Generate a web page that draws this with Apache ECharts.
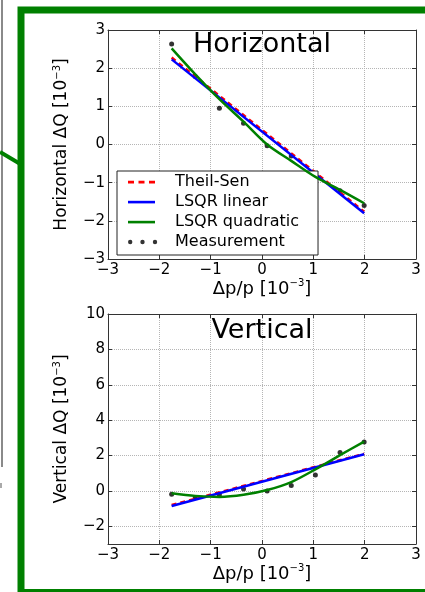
<!DOCTYPE html>
<html><head><meta charset="utf-8">
<script src="https://cdn.jsdelivr.net/npm/echarts@6/dist/echarts.min.js"></script>
<style>html,body{margin:0;padding:0;background:#fff;}#c{width:425px;height:592px;}</style>
</head><body><div id="c"></div>
<script>
// ---- data ----
const xTicks = [-3, -2, -1, 0, 1, 2, 3];
const hTicks = [-3, -2, -1, 0, 1, 2, 3];
const vTicks = [-2, 0, 2, 4, 6, 8, 10];

const measX = [-1.76, -1.30, -0.83, -0.36, 0.10, 0.57, 1.04, 1.52, 1.99];
const hMeas = [2.63, 1.78, 0.95, 0.56, -0.03, -0.30, -0.86, -1.21, -1.60];
const vMeas = [-0.19, -0.37, -0.22, 0.11, 0.00, 0.30, 0.90, 2.17, 2.77];

const fitX = [-1.76, 1.99];
const hTheil = [2.28, -1.76];
const hLinear = [2.23, -1.80];
const hQuad = [2.52, 1.84, 1.19, 0.60, 0.00, -0.43, -0.85, -1.19, -1.54];
const vTheil = [-0.80, 2.10];
const vLinear = [-0.85, 2.07];
const vQuad = [-0.13, -0.28, -0.34, -0.22, 0.05, 0.50, 1.22, 2.02, 2.79];

const legendNames = ['Theil-Sen', 'LSQR linear', 'LSQR quadratic', 'Measurement'];
const titles = ['Horizontal', 'Vertical'];

// ---- helpers ----
const pair = (xs, ys) => xs.map((x, i) => [x, ys[i]]);
const fmt = v => (v < 0 ? '\u2212' + Math.abs(v) : String(v));
const FONT = 'DejaVu Sans';
const AX = '#333';
const GRIDC = '#b5b5b5';
const sup = { fontSize: 10, padding: [0, 0, 10, 0], fontFamily: FONT, color: '#000' };

function mainX(gi) {
  return {
    type: 'value', gridIndex: gi, min: -3, max: 3, interval: 1, position: 'bottom',
    name: 'Δp/p [10{sup|−3}]', nameLocation: 'middle', nameGap: 18,
    nameTextStyle: { fontSize: 18, color: '#000', fontFamily: FONT, rich: { sup } },
    axisLine: { show: true, onZero: false, lineStyle: { color: AX, width: 1 } },
    axisTick: { show: true, inside: true, length: 4, lineStyle: { color: AX } },
    axisLabel: { fontSize: 15, color: '#000', margin: 4, fontFamily: FONT, formatter: fmt, customValues: xTicks },
    splitLine: { show: true, lineStyle: { color: GRIDC, type: 'dotted', width: 1 } }
  };
}
function topX(gi) {
  return {
    type: 'value', gridIndex: gi, min: -3, max: 3, interval: 1, position: 'top',
    axisLine: { show: true, onZero: false, lineStyle: { color: AX, width: 1 } },
    axisTick: { show: true, inside: true, length: 4, lineStyle: { color: AX } },
    axisLabel: { show: false }, splitLine: { show: false }
  };
}

const option = {
  animation: false,
  backgroundColor: '#fff',
  textStyle: { fontFamily: FONT },
  title: [
    { text: titles[0], left: 262, top: 31, textAlign: 'center', padding: 0,
      textStyle: { fontSize: 27, fontWeight: 'normal', color: '#000', fontFamily: FONT } },
    { text: titles[1], left: 262, top: 317, textAlign: 'center', padding: 0,
      textStyle: { fontSize: 27, fontWeight: 'normal', color: '#000', fontFamily: FONT } }
  ],
  grid: [
    { left: 108, top: 30, width: 308, height: 229, outerBoundsMode: 'none', containLabel: false },
    { left: 108, top: 314, width: 308, height: 230, outerBoundsMode: 'none', containLabel: false }
  ],
  xAxis: [mainX(0), topX(0), mainX(1), topX(1)],
  yAxis: [
    {
      type: 'value', gridIndex: 0, min: -3, max: 3, interval: 1, position: 'left',
      name: 'Horizontal ΔQ [10{sup|−3}]', nameLocation: 'middle', nameGap: 36,
      nameTextStyle: { fontSize: 17, color: '#000', fontFamily: FONT, rich: { sup } },
      axisLine: { show: true, onZero: false, lineStyle: { color: AX, width: 1 } },
      axisTick: { show: true, inside: true, length: 4, lineStyle: { color: AX } },
      axisLabel: { fontSize: 15, color: '#000', margin: 3, fontFamily: FONT, formatter: fmt, customValues: hTicks },
      splitLine: { show: true, lineStyle: { color: GRIDC, type: 'dotted', width: 1 } }
    },
    {
      type: 'value', gridIndex: 0, min: -3, max: 3, interval: 1, position: 'right',
      axisLine: { show: true, onZero: false, lineStyle: { color: AX, width: 1 } },
      axisTick: { show: true, inside: true, length: 4, lineStyle: { color: AX } },
      axisLabel: { show: false }, splitLine: { show: false }
    },
    {
      type: 'value', gridIndex: 1, min: -3, max: 10, position: 'left',
      name: 'Vertical ΔQ [10{sup|−3}]', nameLocation: 'middle', nameGap: 36,
      nameTextStyle: { fontSize: 17, color: '#000', fontFamily: FONT, rich: { sup } },
      axisLine: { show: true, onZero: false, lineStyle: { color: AX, width: 1 } },
      axisTick: { show: true, inside: true, length: 4, lineStyle: { color: AX }, customValues: vTicks },
      axisLabel: { fontSize: 15, color: '#000', margin: 3, fontFamily: FONT, formatter: fmt, customValues: vTicks },
      splitLine: { show: true, lineStyle: { color: GRIDC, type: 'dotted', width: 1 } }
    },
    {
      type: 'value', gridIndex: 1, min: -3, max: 10, position: 'right',
      axisLine: { show: true, onZero: false, lineStyle: { color: AX, width: 1 } },
      axisTick: { show: true, inside: true, length: 4, lineStyle: { color: AX }, customValues: vTicks },
      axisLabel: { show: false }, splitLine: { show: false }
    }
  ],
  legend: {
    orient: 'vertical', left: 117, top: 171, padding: [3, 19, 5, 11], itemGap: 4,
    itemWidth: 42, itemHeight: 10, backgroundColor: '#fff', borderColor: '#222', borderWidth: 1,
    borderRadius: 0, selectedMode: false,
    itemStyle: { borderWidth: 0 },
    textStyle: { fontSize: 16, color: '#000', fontFamily: FONT },
    data: [
      { name: legendNames[0], icon: 'path://M0,0L0,0M42,10L42,10M0,3.8h6v2.6h-6zM10.5,3.8h6v2.6h-6zM21,3.8h6v2.6h-6z' },
      { name: legendNames[1], icon: 'path://M0,0L0,0M42,10L42,10M0,3.8h27v2.6h-27z' },
      { name: legendNames[2], icon: 'path://M0,0L0,0M42,10L42,10M0,3.8h27v2.6h-27z' },
      { name: legendNames[3], icon: 'path://M0,0L0,0M42,10L42,10M0,5a2.2,2.2 0 1,0 4.4,0a2.2,2.2 0 1,0 -4.4,0zM12.3,5a2.2,2.2 0 1,0 4.4,0a2.2,2.2 0 1,0 -4.4,0zM24.8,5a2.2,2.2 0 1,0 4.4,0a2.2,2.2 0 1,0 -4.4,0z' }
    ]
  },
  graphic: [
    { type: 'line', z: 100, shape: { x1: 2, y1: 0, x2: 2, y2: 467 }, style: { stroke: '#8a8a8a', lineWidth: 2 } },
    { type: 'line', z: 100, shape: { x1: 1, y1: 483, x2: 1, y2: 488 }, style: { stroke: '#aaa', lineWidth: 2 } },
    { type: 'line', z: 100, shape: { x1: 0, y1: 152, x2: 22, y2: 165 }, style: { stroke: '#008000', lineWidth: 4 } },
    { type: 'rect', z: 100, shape: { x: 21, y: 10, width: 430, height: 582.5 }, style: { fill: 'none', stroke: '#008000', lineWidth: 7 } }
  ],
  series: [
    { name: legendNames[3], type: 'scatter', xAxisIndex: 0, yAxisIndex: 0, data: pair(measX, hMeas), symbolSize: 5,
      itemStyle: { color: '#000' }, z: 1 },
    { name: legendNames[0], type: 'line', xAxisIndex: 0, yAxisIndex: 0, data: pair(fitX, hTheil), symbol: 'none',
      lineStyle: { color: '#ff0000', width: 2.5, type: [5, 4] }, itemStyle: { color: '#ff0000' }, z: 2 },
    { name: legendNames[1], type: 'line', xAxisIndex: 0, yAxisIndex: 0, data: pair(fitX, hLinear), symbol: 'none',
      lineStyle: { color: '#0000ff', width: 2.5 }, itemStyle: { color: '#0000ff' }, z: 3 },
    { name: legendNames[2], type: 'line', xAxisIndex: 0, yAxisIndex: 0, data: pair(measX, hQuad), symbol: 'none', smooth: 0.3,
      lineStyle: { color: '#008000', width: 2.5 }, itemStyle: { color: '#008000' }, z: 4 },
    { name: legendNames[3], type: 'scatter', xAxisIndex: 2, yAxisIndex: 2, data: pair(measX, vMeas), symbolSize: 5,
      itemStyle: { color: '#000' }, z: 1 },
    { name: legendNames[0], type: 'line', xAxisIndex: 2, yAxisIndex: 2, data: pair(fitX, vTheil), symbol: 'none',
      lineStyle: { color: '#ff0000', width: 2.5, type: [5, 4] }, itemStyle: { color: '#ff0000' }, z: 2 },
    { name: legendNames[1], type: 'line', xAxisIndex: 2, yAxisIndex: 2, data: pair(fitX, vLinear), symbol: 'none',
      lineStyle: { color: '#0000ff', width: 2.5 }, itemStyle: { color: '#0000ff' }, z: 3 },
    { name: legendNames[2], type: 'line', xAxisIndex: 2, yAxisIndex: 2, data: pair(measX, vQuad), symbol: 'none', smooth: 0.3,
      lineStyle: { color: '#008000', width: 2.5 }, itemStyle: { color: '#008000' }, z: 4 }
  ]
};
const chart = echarts.init(document.getElementById('c'), null, { renderer: 'canvas' });
chart.setOption(option);
</script></body></html>
